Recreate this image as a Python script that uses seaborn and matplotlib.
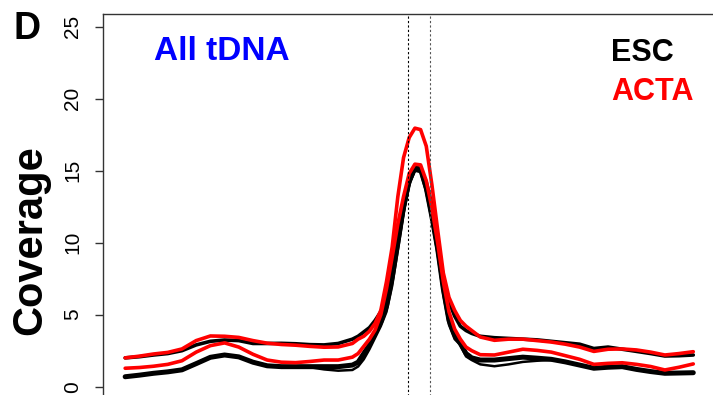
import numpy as np
import pandas as pd
import seaborn as sns
from matplotlib import pyplot as plt

# bin positions along the metagene profile (tDNA sits between the dotted lines)
pos = [0, 2.5, 5, 7.5, 10, 12.5, 15, 17.5, 20, 22.5, 25, 27.5, 30, 32.5, 35, 37.5, 40,
       41, 42, 43, 44, 45, 46, 47, 48, 49, 50, 51, 52, 53, 54, 55, 56, 57, 58, 59, 60, 61,
       62.5, 65, 67.5, 70, 72.5, 75, 77.5, 80, 82.5, 85, 87.5, 90, 92.5, 95, 97.5, 100]
tdna_bounds = [49.8, 53.7]

esc_1 = [2.0, 2.08, 2.2, 2.3, 2.5, 2.9, 3.15, 3.24, 3.2, 3.0, 3.0, 3.01, 2.98, 2.92, 2.9,
         3.0, 3.3, 3.5, 3.8, 4.1, 4.6, 5.2, 6.3, 7.8, 10.0, 12.3, 14.2, 15.1, 15.1, 14.2,
         12.6, 10.2, 7.6, 5.9, 4.9, 4.2, 3.9, 3.7, 3.5, 3.4, 3.35, 3.3, 3.25, 3.15, 3.05,
         2.95, 2.65, 2.75, 2.6, 2.45, 2.3, 2.13, 2.15, 2.2]
esc_2 = [0.69, 0.8, 0.93, 1.03, 1.17, 1.6, 2.04, 2.2, 2.07, 1.7, 1.45, 1.39, 1.39, 1.39,
         1.39, 1.39, 1.5, 1.7, 2.3, 2.9, 3.7, 4.5, 5.6, 7.6, 10.0, 12.5, 14.3, 15.2, 15.1,
         13.8, 11.8, 9.6, 6.8, 4.6, 3.6, 3.0, 2.3, 2.0, 1.85, 1.85, 1.95, 2.05, 1.98, 1.9,
         1.72, 1.5, 1.28, 1.35, 1.39, 1.2, 1.05, 0.93, 0.95, 0.97]
esc_3 = [0.69, 0.8, 0.93, 1.03, 1.17, 1.6, 2.04, 2.2, 2.07, 1.7, 1.45, 1.39, 1.39, 1.35,
         1.2, 1.11, 1.16, 1.4, 1.9, 2.6, 3.4, 4.2, 5.2, 7.0, 9.5, 12.0, 14.0, 15.0, 14.9,
         13.5, 11.5, 9.2, 6.4, 4.3, 3.3, 2.9, 2.1, 1.85, 1.55, 1.42, 1.55, 1.72, 1.8, 1.85,
         1.72, 1.5, 1.28, 1.35, 1.39, 1.2, 1.05, 0.93, 0.95, 0.97]
acta_1 = [2.0, 2.12, 2.27, 2.38, 2.62, 3.2, 3.52, 3.5, 3.42, 3.2, 3.02, 2.93, 2.88, 2.8,
          2.74, 2.76, 3.0, 3.3, 3.5, 3.85, 4.4, 5.3, 7.3, 9.7, 13.2, 15.9, 17.3, 17.95,
          17.85, 16.7, 14.0, 10.9, 7.9, 6.2, 5.3, 4.6, 4.2, 3.9, 3.45, 3.22, 3.3, 3.3, 3.2,
          3.1, 2.95, 2.75, 2.45, 2.6, 2.62, 2.55, 2.4, 2.2, 2.3, 2.43]
acta_2 = [1.28, 1.33, 1.42, 1.55, 1.8, 2.4, 2.85, 3.04, 2.75, 2.25, 1.85, 1.7, 1.67, 1.75,
          1.85, 1.85, 2.05, 2.3, 2.8, 3.3, 3.94, 5.0, 6.8, 9.0, 11.3, 13.2, 14.8, 15.45,
          15.4, 14.3, 12.4, 10.0, 7.3, 5.2, 4.0, 3.3, 2.75, 2.5, 2.22, 2.2, 2.4, 2.6, 2.52,
          2.4, 2.15, 1.9, 1.55, 1.62, 1.66, 1.55, 1.4, 1.16, 1.35, 1.58]

profiles = pd.DataFrame({'pos': pos, 'ESC 1': esc_1, 'ESC 2': esc_2, 'ESC 3': esc_3,
                         'ACTA 1': acta_1, 'ACTA 2': acta_2})

sns.set_style('white')
plt.rcParams['font.family'] = ['Liberation Sans', 'DejaVu Sans']
for key in ['text.color', 'axes.labelcolor', 'xtick.color', 'ytick.color']:
    plt.rcParams[key] = 'black'

fig = plt.figure(figsize=(7.13, 3.95), dpi=100)
ax = fig.add_axes([103 / 713, -0.0154, 613 / 713, 0.9808])

styles = [('ESC 1', 'black', 2.6), ('ESC 2', 'black', 3.6), ('ESC 3', 'black', 1.8),
          ('ACTA 1', 'red', 2.6), ('ACTA 2', 'red', 2.6)]
for name, col, lw in styles:
    sns.lineplot(data=profiles, x='pos', y=name, color=col, lw=lw, ax=ax)

ax.axvline(tdna_bounds[0], color='black', lw=0.8, ls=(0, (2, 2)))
ax.axvline(tdna_bounds[1], color='#555555', lw=0.8, ls=(0, (2, 2)))

ax.set_xlim(-3.9, 104)
ax.set_ylim(-1, 25.9)
ax.set_yticks([0, 5, 10, 15, 20, 25])
ax.set_xticks([])
ax.set_xlabel('')
ax.set_ylabel('')
for s in ['bottom', 'right']:
    ax.spines[s].set_visible(False)
for s in ['left', 'top']:
    ax.spines[s].set_color('#333333')
    ax.spines[s].set_linewidth(1.0)
ax.tick_params(axis='y', direction='out', length=6, width=1, color='#333333',
               labelsize=15, pad=9, left=True, labelrotation=90)
plt.setp(ax.get_yticklabels(), va='center')

fig.text(30 / 713, 1 - 240 / 395, 'Coverage', rotation=90, fontsize=30,
         fontweight='bold', ha='center', va='center')
fig.text(27 / 713, 1 - 29 / 395, 'D', fontsize=27, fontweight='bold',
         ha='center', va='center')
fig.text(222 / 713, 1 - 52 / 395, 'All tDNA', fontsize=24, fontweight='bold',
         color='#0000FF', ha='center', va='center')
fig.text(611 / 713, 1 - 53 / 395, 'ESC', fontsize=22, fontweight='bold',
         color='black', ha='left', va='center')
fig.text(611 / 713, 1 - 92 / 395, 'ACTA', fontsize=22, fontweight='bold',
         color='red', ha='left', va='center')

fig.savefig('out.png', dpi=100)
